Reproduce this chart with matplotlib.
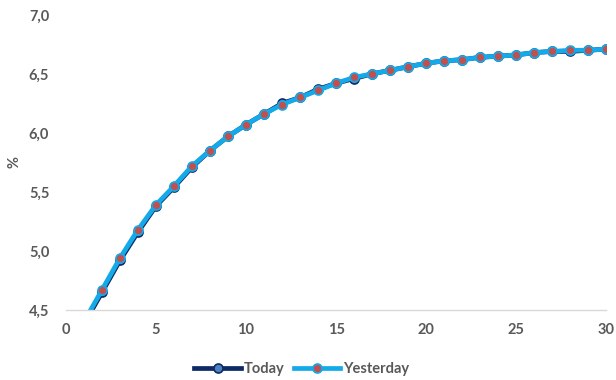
import numpy as np
import matplotlib.pyplot as plt

plt.rcParams['font.family'] = ['Lato', 'DejaVu Sans']

days = list(range(1, 31))
yesterday = [4.40, 4.67, 4.94, 5.18, 5.39, 5.55, 5.72, 5.85, 5.97, 6.07,
             6.16, 6.24, 6.30, 6.36, 6.42, 6.47, 6.50, 6.53, 6.56, 6.59,
             6.61, 6.62, 6.64, 6.65, 6.66, 6.68, 6.69, 6.70, 6.70, 6.71]
today = [4.38, 4.65, 4.92, 5.16, 5.38, 5.54, 5.71, 5.85, 5.97, 6.07,
         6.16, 6.25, 6.30, 6.37, 6.42, 6.46, 6.50, 6.53, 6.56, 6.59,
         6.61, 6.62, 6.64, 6.65, 6.66, 6.68, 6.69, 6.69, 6.70, 6.71]
xticks = [0, 5, 10, 15, 20, 25, 30]
yticks = [4.5, 5.0, 5.5, 6.0, 6.5, 7.0]

fig = plt.figure(figsize=(6.16, 3.8), dpi=100)
ax = fig.add_axes([0.107, 0.184, 0.877, 0.777])

ax.plot(days, today, color='#0c2a66', lw=3.4, marker='o', ms=6.5,
        mfc='#4f81bd', mec='#0c2a66', mew=1.2, label='Today')
ax.plot(days, yesterday, color='#14aaea', lw=3.4, marker='o', ms=6.5,
        mfc='#c0504d', mec='#14aaea', mew=1.2, label='Yesterday')

ax.set_xlim(0, 30)
ax.set_ylim(4.5, 7.0)
ax.set_xticks(xticks)
ax.set_yticks(yticks)
ax.set_yticklabels([f'{v:.1f}'.replace('.', ',') for v in yticks])
ax.set_xticklabels([str(v) for v in xticks])
for s in ['top', 'right', 'left']:
    ax.spines[s].set_visible(False)
ax.spines['bottom'].set_color('#d9d9d9')
ax.spines['bottom'].set_linewidth(1.0)
ax.tick_params(length=0, labelsize=10.5, labelcolor='#595959')
ax.tick_params(axis='x', pad=9)
ax.tick_params(axis='y', pad=12)
for lab in ax.get_xticklabels() + ax.get_yticklabels():
    lab.set_fontweight('bold')
ax.set_ylabel('%', fontsize=10.5, color='#595959', fontweight='bold', labelpad=5)

leg = fig.legend(loc='lower center', bbox_to_anchor=(0.49, -0.025), ncol=2,
                 frameon=False, handlelength=3.2, columnspacing=0.6,
                 handletextpad=0.2, prop={'weight': 'bold', 'size': 10.5})
for t in leg.get_texts():
    t.set_color('#595959')

fig.savefig('out.png', dpi=100)
